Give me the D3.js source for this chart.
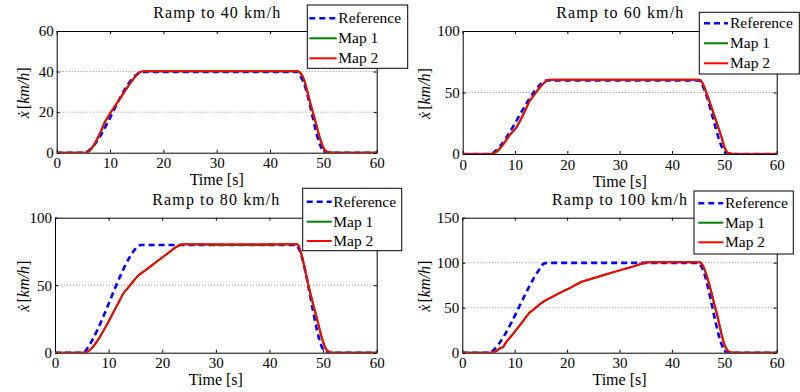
<!DOCTYPE html>
<html>
<head>
<meta charset="utf-8">
<script src="https://cdn.jsdelivr.net/npm/d3@7"></script>
<style>
  body { margin: 0; background: #fff; }
  svg { display: block; }
</style>
</head>
<body>
<svg id="chart" width="800" height="392" style="font-family: 'Liberation Serif', serif;"></svg>
<script>
// ---- data -------------------------------------------------------------
const titles = ["Ramp to 40 km/h", "Ramp to 60 km/h", "Ramp to 80 km/h", "Ramp to 100 km/h"];
const xTicks = [0, 10, 20, 30, 40, 50, 60];
const yMax = [60, 100, 100, 150];
const yTicks = [[0, 20, 40, 60], [0, 50, 100], [0, 50, 100], [0, 50, 100, 150]];
const seriesNames = ["Reference", "Map 1", "Map 2"];

// [time s, speed km/h]
const ref40 = [[0,0],[5.4,0],[5.8,0.6],[15.2,38.9],[15.7,39.6],[16.3,39.8],[45.2,39.8],[45.6,38.2],
  [46.2,35.2],[49.6,2.6],[50.1,0.4],[51,0],[60,0]];
const map1_40 = [[0,0],[5.4,0],[5.8,0.2],[6.3,1.2],[7,3.6],[7.8,7.6],[8.5,11.6],[9,14.8],[9.5,17.1],
  [10,19.3],[11,23.3],[12,27.2],[13,31.2],[14,35],[15,38.4],[15.5,39.6],[16,40.1],[16.5,40.2],
  [45.3,40.2],[45.8,39],[46.3,36.5],[47.5,25],[48.5,15.5],[49.5,6],[50,2.5],[50.5,0.8],[51,0.2],[52,0],[60,0]];
const map2_40 = [[0,0],[5.4,0],[5.8,0.3],[6.3,1.5],[7,4],[7.8,8],[8.5,12],[9,15],[9.5,17.2],
  [10,19.3],[11,23.3],[12,27.2],[13,31.2],[14,35],[15,38.4],[15.5,39.6],[16,40.1],[16.5,40.2],
  [45.3,40.2],[45.8,39],[46.3,36.5],[47.5,25],[48.5,15.5],[49.5,6],[50,2.5],[50.5,0.8],[51,0.2],[52,0],[60,0]];

const ref60 = [[0,0],[5.5,0],[5.9,1.2],[15.1,57.6],[15.6,59.4],[16.2,59.7],[45.1,59.7],[45.6,57.2],
  [50,2.2],[50.4,0.3],[51,0],[60,0]];
const map1_60 = [[0,0],[5.4,0],[5.9,0.4],[6.5,1.8],[7.1,4.3],[8,9.2],[9,15.3],[10.3,22],[11.5,31.5],
  [12.4,39.5],[12.7,42.5],[13.3,46],[14,50],[15,55.5],[16,59.5],[16.6,60.3],[45.3,60.3],[45.8,58],
  [46.5,50.5],[47.5,38.5],[48.5,26],[49.5,13],[50,6],[50.4,2.2],[50.9,0.6],[51.5,0.1],[52.5,0],[60,0]];
const map2_60 = [[0,0],[5.4,0],[5.9,0.5],[6.5,2],[7.1,4.6],[8,9.5],[9,15.5],[10.3,22],[11.5,31.5],
  [12.4,39.5],[12.7,42.5],[13.3,46],[14,50],[15,55.5],[16,59.5],[16.6,60.3],[45.3,60.3],[45.8,58],
  [46.5,50.5],[47.5,38.5],[48.5,26],[49.5,13],[50,6],[50.4,2.2],[50.9,0.6],[51.5,0.1],[52.5,0],[60,0]];

const ref80 = [[0,0],[5.4,0],[5.7,1.5],[15,77],[15.5,79.3],[16.1,79.8],[45,79.8],[45.4,77.5],
  [50,2.5],[50.4,0.3],[51,0],[60,0]];
const map1_80 = [[0,0],[5.4,0],[5.9,0.4],[6.5,1.8],[7.2,4.7],[8,9.2],[8.4,11.8],[9.5,19.5],[10.5,27],
  [11.5,34.5],[12.3,40.5],[12.6,43],[13.5,47.5],[14.5,52.5],[15.2,55.8],[15.5,57],[17,61.5],[19,67.5],
  [20,70.5],[21,73.5],[22.7,78.5],[23.3,79.8],[24,80.3],[35,79.7],[45.1,80.3],[45.4,79.5],[45.7,76.5],
  [47.25,50],[49,23],[50,8],[50.5,3],[51,1],[51.6,0.2],[52.5,0],[60,0]];
const map2_80 = [[0,0],[5.4,0],[5.9,0.5],[6.5,2],[7.2,5],[8,9.5],[8.4,12],[9.5,19.5],[10.5,27],
  [11.5,34.5],[12.3,40.5],[12.6,43],[13.5,47.5],[14.5,52.5],[15.2,55.8],[15.5,57],[17,61.5],[19,67.5],
  [20,70.5],[21,73.5],[22.7,78.5],[23.3,79.8],[24,80.3],[45.1,80.3],[45.4,79.5],[45.7,76.5],
  [47.25,50],[49,23],[50,8],[50.5,3],[51,1],[51.6,0.2],[52.5,0],[60,0]];

const ref100 = [[0,0],[5.4,0],[5.8,2],[15,95],[15.5,98.8],[16.2,99.8],[45.1,99.8],[45.5,97],
  [50,3],[50.4,0.4],[51,0],[60,0]];
const map1_100 = [[0,0],[5.4,0],[5.9,0.4],[6.5,1.8],[7.2,4.7],[7.8,6.4],[8.4,11.8],[9.5,19.5],[10.5,27],
  [11.5,34.5],[12.3,40.5],[12.6,43],[13.5,47.5],[14.5,52.5],[15.5,56.7],[17,61.5],[19,67.5],[20,70.4],
  [21,73.4],[22.8,78.9],[23.5,80.2],[25,82.8],[30,91.5],[33,96.5],[35.2,100.3],[36,100.6],[45.3,100.6],
  [45.6,99.5],[46,95.5],[48.5,45],[50.1,8],[50.5,3.5],[51,1],[51.6,0.2],[52.5,0],[60,0]];
const map2_100 = [[0,0],[5.4,0],[5.9,0.5],[6.5,2],[7.2,5],[7.8,6.7],[8.4,12],[9.5,19.5],[10.5,27],
  [11.5,34.5],[12.3,40.5],[12.6,43],[13.5,47.5],[14.5,52.5],[15.5,56.7],[17,61.5],[19,67.5],[20,70.4],
  [21,73.4],[22.8,78.9],[23.5,80.2],[25,82.8],[30,91.5],[33,96.5],[35.2,100.3],[36,100.6],[45.3,100.6],
  [45.6,99.5],[46,95.5],[48.5,45],[50.1,8],[50.5,3.5],[51,1],[51.6,0.2],[52.5,0],[60,0]];

const refSeries = [ref40, ref60, ref80, ref100];
const map1Series = [map1_40, map1_60, map1_80, map1_100];
const map2Series = [map2_40, map2_60, map2_80, map2_100];

// ---- layout -----------------------------------------------------------
const layout = [
  { l: 56.7, r: 376.7, t: 31, b: 152.7, titleY: 18.3, xlabY: 185, ylabX: 28.5,
    leg: { x: 307.3, y: 5, w: 100.4, h: 63.3, rows: [18.3, 38.3, 58.3], l1: 309.3, l2: 336.7, tx: 338.3 } },
  { l: 462.7, r: 776.7, t: 31, b: 154, titleY: 18.3, xlabY: 186.7, ylabX: 430,
    leg: { x: 699.3, y: 12.3, w: 100, h: 61.7, rows: [23.3, 43.3, 63.3], l1: 704, l2: 728, tx: 730 } },
  { l: 55, r: 376.7, t: 217.7, b: 352.7, titleY: 205, xlabY: 385, ylabX: 28.5,
    leg: { x: 302.7, y: 188.3, w: 99, h: 62.4, rows: [201.7, 221.7, 241], l1: 306.7, l2: 331.7, tx: 333.3 } },
  { l: 462.3, r: 776.7, t: 217.7, b: 352.7, titleY: 205, xlabY: 385, ylabX: 430,
    leg: { x: 694, y: 191, w: 99.3, h: 63, rows: [203.3, 222.7, 242.3], l1: 698.3, l2: 723.3, tx: 725 } }
];

const FONT = "'Liberation Serif', serif";

const styles = [
  { color: "#0000ff", width: 2.6, dash: "6,4" },
  { color: "#008000", width: 2, dash: null },
  { color: "#ff0000", width: 2, dash: null }
];

const svg = d3.select("#chart");

function styleAxis(sel) {
  sel.attr("font-family", FONT).attr("font-size", 15);
  sel.select(".domain").attr("stroke", "#000").attr("stroke-width", 1);
  sel.selectAll(".tick line").attr("stroke", "#000").attr("stroke-width", 1);
  sel.selectAll(".tick text")
    .style("font-family", FONT).attr("font-size", 15).attr("fill", "#000");
}

function label(g, size) {
  return g.append("text").style("font-family", FONT).attr("font-size", size).attr("fill", "#000");
}

function drawPanel(p) {
  const L = layout[p];
  const x = d3.scaleLinear().domain([0, 60]).range([L.l, L.r]);
  const y = d3.scaleLinear().domain([0, yMax[p]]).range([L.b, L.t]);
  const g = svg.append("g");

  // horizontal dotted grid
  g.selectAll("line.grid")
    .data(yTicks[p].filter(v => v > 0 && v < yMax[p]))
    .join("line")
    .attr("class", "grid")
    .attr("x1", L.l).attr("x2", L.r)
    .attr("y1", d => y(d)).attr("y2", d => y(d))
    .attr("stroke", "#8a8a8a").attr("stroke-width", 1).attr("stroke-dasharray", "1,2");

  // box axes with inward ticks
  g.append("g").attr("transform", `translate(0,${L.b})`)
    .call(d3.axisBottom(x).tickValues(xTicks).tickSizeInner(-3).tickSizeOuter(0).tickPadding(5))
    .call(styleAxis);
  g.append("g").attr("transform", `translate(0,${L.t})`)
    .call(d3.axisTop(x).tickValues(xTicks).tickSizeInner(-3).tickSizeOuter(0).tickFormat(""))
    .call(styleAxis);
  g.append("g").attr("transform", `translate(${L.l},0)`)
    .call(d3.axisLeft(y).tickValues(yTicks[p]).tickSizeInner(-3).tickSizeOuter(0).tickPadding(3))
    .call(styleAxis);
  g.append("g").attr("transform", `translate(${L.r},0)`)
    .call(d3.axisRight(y).tickValues(yTicks[p]).tickSizeInner(-3).tickSizeOuter(0).tickFormat(""))
    .call(styleAxis);

  // curves, clipped to the plot area
  const clipId = "clip" + p;
  svg.append("clipPath").attr("id", clipId).append("rect")
    .attr("x", L.l).attr("y", L.t).attr("width", L.r - L.l).attr("height", L.b - L.t);
  const line = d3.line().x(d => x(d[0])).y(d => y(d[1])).curve(d3.curveMonotoneX);
  const curves = g.append("g").attr("clip-path", `url(#${clipId})`);
  [refSeries[p], map1Series[p], map2Series[p]].forEach((data, k) => {
    curves.append("path")
      .attr("d", line(data))
      .attr("fill", "none")
      .attr("stroke", styles[k].color)
      .attr("stroke-width", styles[k].width)
      .attr("stroke-dasharray", styles[k].dash)
      .attr("stroke-linejoin", "round");
  });

  // title and axis labels
  label(g, 16)
    .attr("x", (L.l + L.r) / 2).attr("y", L.titleY)
    .attr("text-anchor", "middle")
    .attr("textLength", p === 3 ? 135 : 127).attr("lengthAdjust", "spacing")
    .text(titles[p]);
  label(g, 16)
    .attr("x", (L.l + L.r) / 2).attr("y", L.xlabY)
    .attr("text-anchor", "middle")
    .text("Time [s]");
  const yl = label(g, 16)
    .attr("transform", `translate(${L.ylabX},${(L.t + L.b) / 2 + 1}) rotate(-90)`)
    .attr("text-anchor", "middle");
  yl.append("tspan").attr("font-style", "italic").text("ẋ");
  yl.append("tspan").attr("dx", 2).text("[");
  yl.append("tspan").attr("font-style", "italic").text("km/h");
  yl.append("tspan").text("]");

  // legend
  const lg = L.leg;
  const leg = g.append("g");
  leg.append("rect")
    .attr("x", lg.x).attr("y", lg.y).attr("width", lg.w).attr("height", lg.h)
    .attr("fill", "#fff").attr("stroke", "#000").attr("stroke-width", 1);
  seriesNames.forEach((name, k) => {
    leg.append("line")
      .attr("x1", lg.l1).attr("x2", lg.l2)
      .attr("y1", lg.rows[k]).attr("y2", lg.rows[k])
      .attr("stroke", styles[k].color)
      .attr("stroke-width", styles[k].width)
      .attr("stroke-dasharray", styles[k].dash);
    label(leg, 15.5)
      .attr("x", lg.tx).attr("y", lg.rows[k] + 5)
      .text(name);
  });
}

[0, 1, 2, 3].forEach(drawPanel);
</script>
</body>
</html>
